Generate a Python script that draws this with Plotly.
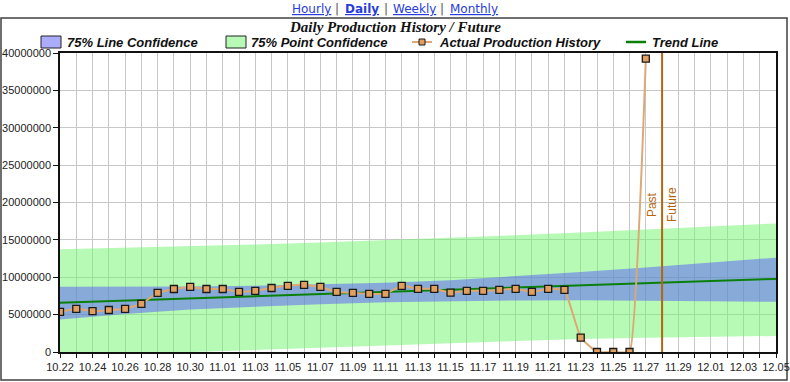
import plotly.graph_objects as go

# ---------------- data ----------------
hist_dates = ["2023-10-22", "2023-10-23", "2023-10-24", "2023-10-25", "2023-10-26", "2023-10-27",
              "2023-10-28", "2023-10-29", "2023-10-30", "2023-10-31", "2023-11-01", "2023-11-02",
              "2023-11-03", "2023-11-04", "2023-11-05", "2023-11-06", "2023-11-07", "2023-11-08",
              "2023-11-09", "2023-11-10", "2023-11-11", "2023-11-12", "2023-11-13", "2023-11-14",
              "2023-11-15", "2023-11-16", "2023-11-17", "2023-11-18", "2023-11-19", "2023-11-20",
              "2023-11-21", "2023-11-22", "2023-11-23", "2023-11-24", "2023-11-25", "2023-11-26",
              "2023-11-27"]
hist_values = [5370000, 5780000, 5480000, 5620000, 5760000, 6450000,
               7900000, 8430000, 8700000, 8430000, 8430000, 8040000,
               8180000, 8560000, 8850000, 8980000, 8710000, 8040000,
               7910000, 7780000, 7780000, 8850000, 8450000, 8450000,
               7930000, 8180000, 8180000, 8310000, 8450000, 8040000,
               8450000, 8310000, 1910000, 0, 0, 0,
               39240000]

band_dates = ["2023-10-22", "2023-10-26", "2023-10-30", "2023-11-03", "2023-11-07", "2023-11-11",
              "2023-11-15", "2023-11-19", "2023-11-23", "2023-11-27", "2023-12-01", "2023-12-05"]
line_conf_upper = [8720000, 8720000, 8750000, 8850000, 9050000, 9250000,
                   9600000, 10100000, 10700000, 11300000, 11950000, 12620000]
line_conf_lower = [4360000, 5100000, 5700000, 6100000, 6400000, 6650000,
                   6800000, 6900000, 6930000, 6900000, 6800000, 6710000]
point_conf_upper = [13730000, 13930000, 14130000, 14380000, 14650000, 14950000,
                    15280000, 15620000, 16000000, 16400000, 16800000, 17200000]
point_conf_lower = [-600000, -300000, -50000, 300000, 600000, 850000,
                    1150000, 1450000, 1750000, 1900000, 2050000, 2150000]

trend_dates = ["2023-10-22", "2023-12-05"]
trend_values = [6580000, 9780000]

divider_date = "2023-11-28"
x_range = ["2023-10-22", "2023-12-05"]
y_range = [0, 40000000]

# ---------------- layout helpers (pixel -> paper) ----------------
W, H = 790, 382
PL, PR, PT, PB = 60, 776, 53, 352


def px(x):
    return (x - PL) / (PR - PL)


def py(y):
    return (PB - y) / (PB - PT)


GREEN_FILL = "rgba(110,245,110,0.5)"
BLUE_FILL = "rgba(90,90,250,0.5)"
TAN = "rgb(222,168,118)"
MARKER = "rgb(226,160,95)"
TREND = "rgb(10,128,10)"
DIVIDER = "rgb(181,101,13)"

fig = go.Figure()

# point confidence band
fig.add_trace(go.Scatter(x=band_dates, y=point_conf_lower, mode="lines",
                         line=dict(width=0, color=GREEN_FILL), hoverinfo="skip",
                         showlegend=False))
fig.add_trace(go.Scatter(x=band_dates, y=point_conf_upper, mode="lines",
                         line=dict(width=0, color=GREEN_FILL), fill="tonexty",
                         fillcolor=GREEN_FILL, name="75% Point Confidence", showlegend=False))
# line confidence band
fig.add_trace(go.Scatter(x=band_dates, y=line_conf_lower, mode="lines",
                         line=dict(width=0, color=BLUE_FILL), hoverinfo="skip",
                         showlegend=False))
fig.add_trace(go.Scatter(x=band_dates, y=line_conf_upper, mode="lines",
                         line=dict(width=0, color=BLUE_FILL), fill="tonexty",
                         fillcolor=BLUE_FILL, name="75% Line Confidence", showlegend=False))
# trend
fig.add_trace(go.Scatter(x=trend_dates, y=trend_values, mode="lines",
                         line=dict(width=2, color=TREND), name="Trend Line", showlegend=False))
# actual
fig.add_trace(go.Scatter(x=hist_dates, y=hist_values, mode="lines+markers",
                         line=dict(width=2, color=TAN, shape="spline", smoothing=0.3),
                         marker=dict(symbol="square", size=7, color=MARKER,
                                     line=dict(width=1.3, color="#1a1a1a")),
                         name="Actual Production History", showlegend=False))

# divider line
fig.add_shape(type="line", xref="x", yref="paper", x0=divider_date, x1=divider_date,
              y0=0, y1=1, line=dict(color=DIVIDER, width=2))
fig.add_annotation(xref="x", yref="paper", x=divider_date, y=py(205), text="Past",
                   textangle=-90, showarrow=False, xanchor="right", yanchor="middle",
                   xshift=-1, font=dict(family="Liberation Sans, Arial", size=12, color=DIVIDER))
fig.add_annotation(xref="x", yref="paper", x=divider_date, y=py(205), text="Future",
                   textangle=-90, showarrow=False, xanchor="left", yanchor="middle",
                   xshift=1, font=dict(family="Liberation Sans, Arial", size=12, color=DIVIDER))

# outer frame
fig.add_shape(type="rect", xref="paper", yref="paper", x0=px(1), x1=px(787), y0=py(380), y1=py(18),
              line=dict(color="#404040", width=1.5), fillcolor="rgba(0,0,0,0)", layer="below")

# title
fig.add_annotation(xref="paper", yref="paper", x=px(395), y=py(27), text="<b><i>Daily Production History / Future</i></b>",
                   showarrow=False, xanchor="center", yanchor="middle",
                   font=dict(family="Liberation Serif, Times New Roman", size=15, color="#111"))

# navigation links
LINK = "rgb(40,60,220)"
nav = [("Hourly", 311, False), ("Daily", 362, True), ("Weekly", 414, False), ("Monthly", 474, False)]
for label, cx, bold in nav:
    t = f"<u>{label}</u>"
    if bold:
        t = f"<b>{t}</b>"
    fig.add_annotation(xref="paper", yref="paper", x=px(cx), y=py(9), text=t, showarrow=False,
                       xanchor="center", yanchor="middle",
                       font=dict(family="DejaVu Sans, Verdana", size=12, color=LINK))
for sx in (337, 386, 442):
    fig.add_annotation(xref="paper", yref="paper", x=px(sx), y=py(9), text="|", showarrow=False,
                       xanchor="center", yanchor="middle",
                       font=dict(family="DejaVu Sans, Verdana", size=12, color="#555"))

# manual legend
LEG_FONT = dict(family="Liberation Sans, Arial", size=13, color="#111")
LY = 42
fig.add_shape(type="rect", xref="paper", yref="paper", x0=px(41), x1=px(61), y0=py(48), y1=py(36),
              fillcolor="rgb(172,172,252)", line=dict(color="#222", width=1))
fig.add_annotation(xref="paper", yref="paper", x=px(65), y=py(LY), text="<b><i>75% Line Confidence</i></b>",
                   showarrow=False, xanchor="left", yanchor="middle", font=LEG_FONT)
fig.add_shape(type="rect", xref="paper", yref="paper", x0=px(226), x1=px(246), y0=py(48), y1=py(36),
              fillcolor="rgb(182,250,182)", line=dict(color="#222", width=1))
fig.add_annotation(xref="paper", yref="paper", x=px(249), y=py(LY), text="<b><i>75% Point Confidence</i></b>",
                   showarrow=False, xanchor="left", yanchor="middle", font=LEG_FONT)
fig.add_shape(type="line", xref="paper", yref="paper", x0=px(412), x1=px(432), y0=py(LY), y1=py(LY),
              line=dict(color=TAN, width=2))
fig.add_shape(type="rect", xref="paper", yref="paper", x0=px(419), x1=px(425), y0=py(45), y1=py(39),
              fillcolor=MARKER, line=dict(color="#1a1a1a", width=1))
fig.add_annotation(xref="paper", yref="paper", x=px(437), y=py(LY), text="<b><i>Actual Production History</i></b>",
                   showarrow=False, xanchor="left", yanchor="middle", font=LEG_FONT)
fig.add_shape(type="line", xref="paper", yref="paper", x0=px(626), x1=px(646), y0=py(LY), y1=py(LY),
              line=dict(color=TREND, width=2.5))
fig.add_annotation(xref="paper", yref="paper", x=px(650), y=py(LY), text="<b><i>Trend Line</i></b>",
                   showarrow=False, xanchor="left", yanchor="middle", font=LEG_FONT)

TICK_FONT = dict(family="Liberation Sans, Arial", size=11, color="#222")
fig.update_layout(
    template="none",
    width=W, height=H,
    margin=dict(l=PL, r=W - PR, t=PT, b=H - PB, pad=0),
    paper_bgcolor="white", plot_bgcolor="white",
    showlegend=False,
    xaxis=dict(type="date", range=x_range, tick0="2023-10-22", dtick=2 * 86400000,
               tickformat="%m.%d", ticks="outside", ticklen=4, tickcolor="#111",
               showgrid=True, gridcolor="#c8c8c8", gridwidth=1,
               minor=dict(dtick=86400000, showgrid=True, gridcolor="#c8c8c8", ticks="outside",
                          ticklen=4, tickcolor="#111"),
               showline=True, linecolor="#111", linewidth=1.5, mirror=True,
               tickfont=TICK_FONT, automargin=False, zeroline=False, fixedrange=True),
    yaxis=dict(range=y_range, dtick=5000000, tickformat="d", ticks="outside", ticklen=5,
               tickcolor="#111", showgrid=True, gridcolor="#c8c8c8", gridwidth=1,
               showline=True, linecolor="#111", linewidth=1.5, mirror=True,
               tickfont=TICK_FONT, automargin=False, zeroline=False, fixedrange=True),
)

fig.write_html("out.html", config={"displayModeBar": False},
               post_script="document.body.style.margin='0';document.body.style.overflow='hidden';")
